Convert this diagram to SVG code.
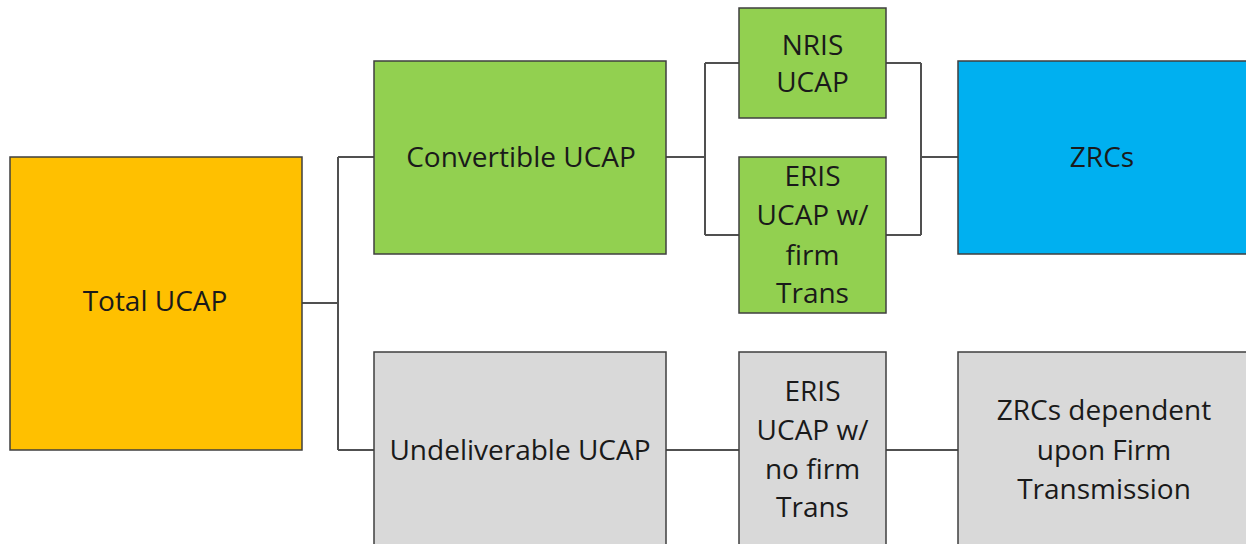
<svg xmlns="http://www.w3.org/2000/svg" width="1246" height="544" viewBox="0 0 1246 544">
<style>
.box{stroke:#3f3f3f;stroke-width:1.5}
.t{font-family:"Open Sans","Liberation Sans",sans-serif;font-size:28px;fill:#1a1a1a;text-anchor:middle}
.c{fill:none;stroke:#505050;stroke-width:2}
</style>
<rect width="1246" height="544" fill="#ffffff"/>
<g id="connectors">
<path class="c" d="M302 303H338M338 157V450M338 157H374M338 450H374"/>
<path class="c" d="M666 157H705M705 63V235M705 63H739M705 235H739"/>
<path class="c" d="M886 63H921M886 235H921M921 63V235M921 157H958"/>
<path class="c" d="M666 450H739M886 450H958"/>
</g>
<g id="total">
<rect class="box" x="10" y="157" width="292" height="293" fill="#FFC000"/>
<text class="t" x="155" y="311">Total UCAP</text>
</g>
<g id="convertible">
<rect class="box" x="374" y="61" width="292" height="193" fill="#92D050"/>
<text class="t" x="521" y="167">Convertible UCAP</text>
</g>
<g id="nris">
<rect class="box" x="739" y="8" width="147" height="110" fill="#92D050"/>
<text class="t" x="812.5" y="55">NRIS</text>
<text class="t" x="812.5" y="92">UCAP</text>
</g>
<g id="eris-firm">
<rect class="box" x="739" y="157" width="147" height="156" fill="#92D050"/>
<text class="t" x="812.5" y="186">ERIS</text>
<text class="t" x="812.5" y="225">UCAP w/</text>
<text class="t" x="812.5" y="265">firm</text>
<text class="t" x="812.5" y="303">Trans</text>
</g>
<g id="zrcs">
<rect class="box" x="958" y="61" width="300" height="193" fill="#00B0F0"/>
<text class="t" x="1102" y="167">ZRCs</text>
</g>
<g id="undeliverable">
<rect class="box" x="374" y="352" width="292" height="200" fill="#D9D9D9"/>
<text class="t" x="520" y="460">Undeliverable UCAP</text>
</g>
<g id="eris-nofirm">
<rect class="box" x="739" y="352" width="147" height="200" fill="#D9D9D9"/>
<text class="t" x="812.5" y="401">ERIS</text>
<text class="t" x="812.5" y="440">UCAP w/</text>
<text class="t" x="812.5" y="479">no firm</text>
<text class="t" x="812.5" y="517">Trans</text>
</g>
<g id="zrcs-dependent">
<rect class="box" x="958" y="352" width="300" height="200" fill="#D9D9D9"/>
<text class="t" x="1104" y="420">ZRCs dependent</text>
<text class="t" x="1104" y="460">upon Firm</text>
<text class="t" x="1104" y="499">Transmission</text>
</g>
</svg>
